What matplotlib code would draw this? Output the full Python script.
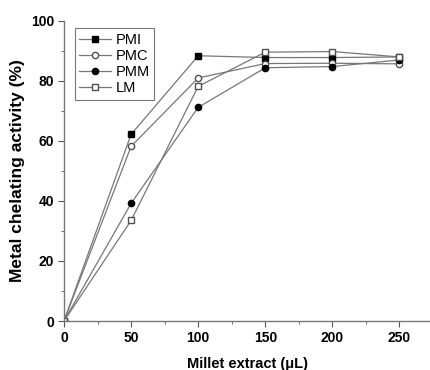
import matplotlib
matplotlib.use("Agg")
import matplotlib.pyplot as plt
from matplotlib.ticker import MultipleLocator

plt.rcParams["font.family"] = ["Liberation Sans", "DejaVu Sans"]

volume = [0, 50, 100, 150, 200, 250]
pmi = [0, 62.2, 88.4, 87.8, 87.8, 88.0]
pmc = [0, 58.2, 81.0, 85.8, 85.9, 85.7]
pmm = [0, 39.2, 71.2, 84.4, 84.8, 87.0]
lm = [0, 33.5, 78.2, 89.6, 89.8, 88.0]

fig = plt.figure(figsize=(4.31, 3.70), dpi=100)
ax = fig.add_axes([0.1485, 0.1324, 0.85, 0.811])

line_color = "#777777"
ax.plot(volume, pmi, color=line_color, lw=0.9, marker="s", ms=4.5,
        mfc="black", mec="black", label="PMI")
ax.plot(volume, pmc, color=line_color, lw=0.9, marker="o", ms=4.5,
        mfc="white", mec="#505050", label="PMC")
ax.plot(volume, pmm, color=line_color, lw=0.9, marker="o", ms=4.5,
        mfc="black", mec="black", label="PMM")
ax.plot(volume, lm, color=line_color, lw=0.9, marker="s", ms=4.5,
        mfc="white", mec="#505050", label="LM")

ax.set_xlim(0, 273)
ax.set_ylim(0, 100)
ax.xaxis.set_major_locator(MultipleLocator(50))
ax.xaxis.set_minor_locator(MultipleLocator(25))
ax.yaxis.set_major_locator(MultipleLocator(20))
ax.yaxis.set_minor_locator(MultipleLocator(10))
ax.spines["top"].set_visible(False)
ax.spines["right"].set_visible(False)
for s in ("left", "bottom"):
    ax.spines[s].set_color("#777777")
    ax.spines[s].set_linewidth(1.0)
ax.tick_params(which="major", length=4, color="#555555", labelsize=10, pad=3)
ax.tick_params(which="minor", length=2.5, color="#555555")
for lab in ax.get_xticklabels() + ax.get_yticklabels():
    lab.set_fontweight("bold")

ax.set_xlabel("Millet extract (\u03bcL)", fontsize=10.5, fontweight="bold", labelpad=9)
ax.set_ylabel("Metal chelating activity (%)", fontsize=12.5, fontweight="bold", labelpad=4)

leg = ax.legend(loc="upper left", bbox_to_anchor=(0.01, 1.0), fontsize=10.5,
                frameon=True, fancybox=False, edgecolor="#555555",
                handlelength=2.2, borderpad=0.3, labelspacing=0.15,
                handletextpad=0.3)
leg.get_frame().set_linewidth(0.8)

fig.savefig("out.png", dpi=100)
